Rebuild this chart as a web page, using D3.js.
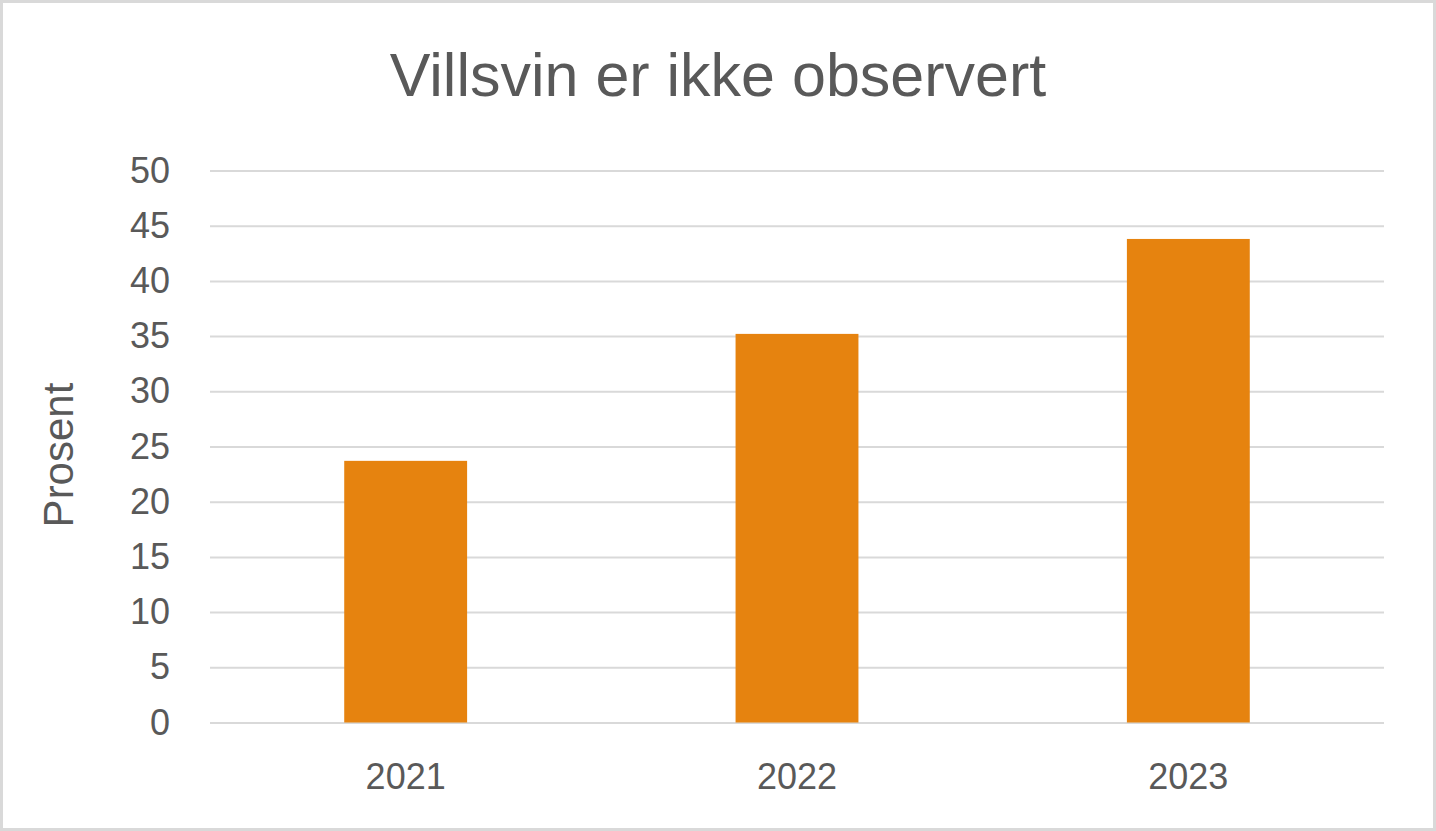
<!DOCTYPE html>
<html>
<head>
<meta charset="utf-8">
<script src="https://cdn.jsdelivr.net/npm/d3@7"></script>
<style>
  html, body { margin: 0; padding: 0; background: #fff; }
  svg text { font-family: "Liberation Sans", Arial, sans-serif; fill: #595959; }
</style>
</head>
<body>
<div id="chart"></div>
<script>
// chart data
const years = ["2021", "2022", "2023"];
const percent = [23.7, 35.2, 43.8];
const yTicks = [0, 5, 10, 15, 20, 25, 30, 35, 40, 45, 50];

const title = "Villsvin er ikke observert";
const yLabel = "Prosent";

const width = 1436;
const height = 831;
const margin = { top: 170.5, right: 52, bottom: 108.5, left: 210 };

const svg = d3.select("#chart")
    .append("svg")
    .attr("width", width)
    .attr("height", height);

// outer frame
svg.append("rect")
    .attr("x", 1.5).attr("y", 1.5)
    .attr("width", width - 3).attr("height", height - 3)
    .attr("fill", "#fff")
    .attr("stroke", "#d9d9d9")
    .attr("stroke-width", 3);

const x = d3.scaleBand()
    .domain(years)
    .range([margin.left, width - margin.right])
    .paddingInner(0.686)
    .paddingOuter(0.343);

const y = d3.scaleLinear()
    .domain([0, 50])
    .range([height - margin.bottom, margin.top]);

// gridlines + y labels
const yAxis = svg.append("g")
    .attr("transform", `translate(${margin.left},0)`)
    .call(d3.axisLeft(y)
        .tickValues(yTicks)
        .tickSize(-(width - margin.left - margin.right))
        .tickPadding(40));

yAxis.select(".domain").remove();
yAxis.selectAll(".tick line")
    .attr("stroke", "#d9d9d9")
    .attr("stroke-width", 2);
yAxis.selectAll(".tick text")
    .attr("font-size", 36)
    .attr("fill", "#595959");

// bars
svg.selectAll(".bar")
    .data(years)
    .enter()
    .append("rect")
    .attr("class", "bar")
    .attr("x", d => x(d))
    .attr("width", x.bandwidth())
    .attr("y", (d, i) => y(percent[i]))
    .attr("height", (d, i) => y(0) - y(percent[i]))
    .attr("fill", "#e6830f");

// x labels
const xAxis = svg.append("g")
    .attr("transform", `translate(0,${height - margin.bottom})`)
    .call(d3.axisBottom(x).tickSize(0).tickPadding(0));

xAxis.select(".domain").remove();
xAxis.selectAll(".tick text")
    .attr("font-size", 36)
    .attr("dy", null)
    .attr("y", 66.5)
    .attr("fill", "#595959");

// title
svg.append("text")
    .attr("x", width / 2)
    .attr("y", 96)
    .attr("text-anchor", "middle")
    .attr("font-size", 61)
    .text(title);

// y axis title
svg.append("text")
    .attr("transform", "translate(73,455) rotate(-90)")
    .attr("text-anchor", "middle")
    .attr("font-size", 42)
    .text(yLabel);
</script>
</body>
</html>
